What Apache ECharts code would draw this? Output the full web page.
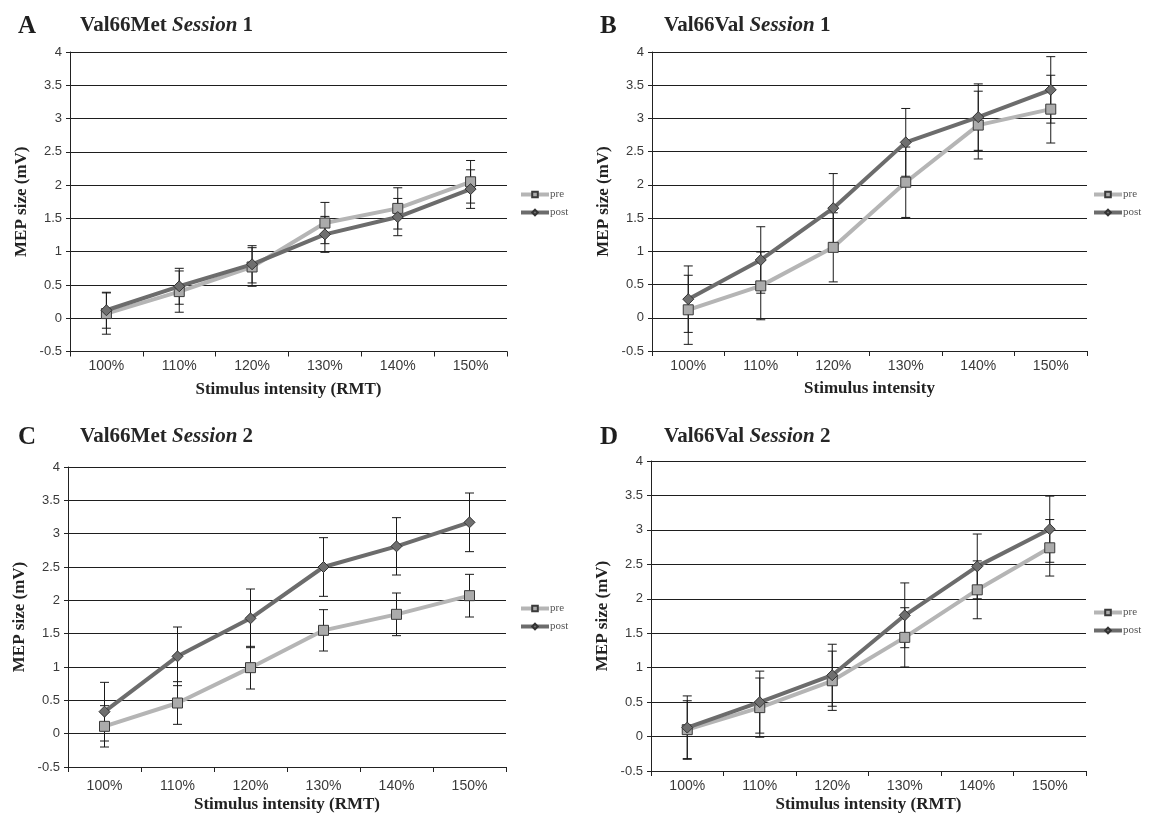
<!DOCTYPE html>
<html>
<head>
<meta charset="utf-8">
<title>MEP size by stimulus intensity</title>
<script src="https://cdn.jsdelivr.net/npm/echarts@6/dist/echarts.min.js"></script>
<style>
  html, body { margin: 0; padding: 0; background: #fff; }
  #chart { width: 1151px; height: 816px; }
</style>
</head>
<body>
<div id="chart"></div>
<script>
// Stimulus intensities (% of resting motor threshold)
const categories = ['100%', '110%', '120%', '130%', '140%', '150%'];
const yTicks = { min: -0.5, max: 4, interval: 0.5 };

// Panel A: Val66Met, session 1 (mean MEP, mV, and error)
const preA = [0.07, 0.40, 0.77, 1.43, 1.65, 2.05];
const preAErr = [0.31, 0.31, 0.29, 0.31, 0.31, 0.32];
const postA = [0.12, 0.48, 0.81, 1.26, 1.52, 1.94];
const postAErr = [0.27, 0.27, 0.28, 0.27, 0.28, 0.29];

// Panel B: Val66Val, session 1
const preB = [0.12, 0.48, 1.06, 2.04, 2.90, 3.14];
const preBErr = [0.52, 0.51, 0.52, 0.53, 0.51, 0.51];
const postB = [0.28, 0.87, 1.65, 2.64, 3.02, 3.43];
const postBErr = [0.50, 0.50, 0.52, 0.51, 0.50, 0.50];

// Panel C: Val66Met, session 2
const preC = [0.11, 0.46, 0.99, 1.55, 1.79, 2.07];
const preCErr = [0.31, 0.32, 0.32, 0.31, 0.32, 0.32];
const postC = [0.33, 1.16, 1.73, 2.50, 2.81, 3.17];
const postCErr = [0.44, 0.44, 0.44, 0.44, 0.43, 0.44];

// Panel D: Val66Val, session 2
const preD = [0.10, 0.42, 0.81, 1.44, 2.13, 2.74];
const preDErr = [0.42, 0.43, 0.43, 0.43, 0.42, 0.41];
const postD = [0.13, 0.50, 0.89, 1.76, 2.47, 3.01];
const postDErr = [0.46, 0.45, 0.45, 0.47, 0.47, 0.48];

const panelTexts = [
  { letter: 'A', genotype: 'Val66Met', session: '1', xName: 'Stimulus intensity (RMT)' },
  { letter: 'B', genotype: 'Val66Val', session: '1', xName: 'Stimulus intensity' },
  { letter: 'C', genotype: 'Val66Met', session: '2', xName: 'Stimulus intensity (RMT)' },
  { letter: 'D', genotype: 'Val66Val', session: '2', xName: 'Stimulus intensity (RMT)' }
];
const panelData = [
  { pre: preA, preErr: preAErr, post: postA, postErr: postAErr },
  { pre: preB, preErr: preBErr, post: postB, postErr: postBErr },
  { pre: preC, preErr: preCErr, post: postC, postErr: postCErr },
  { pre: preD, preErr: preDErr, post: postD, postErr: postDErr }
];

// Layout of each panel on the page
const layout = [
  { grid: { left: 70, top: 52, width: 437, height: 299.5 }, labelMargin: 8, xGap: 30,
    letter: { left: 13, top: 9 }, title: { left: 75, top: 10 }, legend: { left: 519, top: 189 } },
  { grid: { left: 652, top: 52, width: 435, height: 299 }, labelMargin: 8, xGap: 29,
    letter: { left: 595, top: 9 }, title: { left: 659, top: 10 }, legend: { left: 1092, top: 189 } },
  { grid: { left: 68, top: 467, width: 438, height: 300 }, labelMargin: 12, xGap: 29,
    letter: { left: 13, top: 420 }, title: { left: 75, top: 421 }, legend: { left: 519, top: 603 } },
  { grid: { left: 651, top: 461, width: 435, height: 310 }, labelMargin: 8, xGap: 25,
    letter: { left: 595, top: 420 }, title: { left: 659, top: 421 }, legend: { left: 1092, top: 607 } }
];

const SERIF = '"Liberation Serif", "DejaVu Serif", serif';
const SANS = '"Liberation Sans", Arial, sans-serif';

const preStyle = { line: '#b5b5b5', fill: '#ababab', border: '#3a3a3a' };
const postStyle = { line: '#6c6c6c', fill: '#6f6f6f', border: '#333333' };

// Vertical error bar with caps, drawn through the axis scales
function renderErrorBar(params, api) {
  const idx = api.value(0);
  const mean = api.value(1);
  const err = api.value(2);
  const hi = api.coord([idx, mean + err]);
  const lo = api.coord([idx, mean - err]);
  const w = 4.5;
  const style = { stroke: '#1a1a1a', lineWidth: 1 };
  return {
    type: 'group',
    children: [
      { type: 'line', shape: { x1: hi[0], y1: hi[1], x2: lo[0], y2: lo[1] }, style },
      { type: 'line', shape: { x1: hi[0] - w, y1: hi[1], x2: hi[0] + w, y2: hi[1] }, style },
      { type: 'line', shape: { x1: lo[0] - w, y1: lo[1], x2: lo[0] + w, y2: lo[1] }, style }
    ]
  };
}

const grids = [], xAxes = [], yAxes = [], series = [], titles = [], legends = [];

panelTexts.forEach((p, i) => {
  const L = layout[i];
  const d = panelData[i];
  grids.push(Object.assign({ containLabel: false }, L.grid));

  titles.push({
    text: p.letter,
    left: L.letter.left, top: L.letter.top,
    textStyle: { fontFamily: SERIF, fontWeight: 'bold', fontSize: 25, color: '#1e1e1e' }
  });
  titles.push({
    text: p.genotype + ' {i|Session} ' + p.session,
    left: L.title.left, top: L.title.top,
    textStyle: {
      fontFamily: SERIF, fontWeight: 'bold', fontSize: 21, color: '#262626',
      rich: { i: { fontFamily: SERIF, fontWeight: 'bold', fontStyle: 'italic', fontSize: 21, color: '#262626' } }
    }
  });

  xAxes.push({
    type: 'category', gridIndex: i, data: categories, boundaryGap: true,
    position: 'bottom',
    name: p.xName, nameLocation: 'middle', nameGap: L.xGap,
    nameTextStyle: { fontFamily: SERIF, fontWeight: 'bold', fontSize: 17, color: '#222' },
    axisLine: { show: true, onZero: false, lineStyle: { color: '#222', width: 1 } },
    axisTick: { show: true, alignWithLabel: false, inside: false, length: 5, lineStyle: { color: '#222' } },
    axisLabel: { margin: L.labelMargin, fontFamily: SANS, fontSize: 14, color: '#3a3a3a', interval: 0 },
    splitLine: { show: false }
  });

  yAxes.push({
    type: 'value', gridIndex: i,
    min: yTicks.min, max: yTicks.max, interval: yTicks.interval,
    name: 'MEP size (mV)', nameLocation: 'middle', nameGap: 40, nameRotate: 90,
    nameTextStyle: { fontFamily: SERIF, fontWeight: 'bold', fontSize: 17, color: '#222' },
    axisLine: { show: true, lineStyle: { color: '#222', width: 1 } },
    axisTick: { show: true, length: 4, lineStyle: { color: '#222' } },
    axisLabel: { margin: 8, fontFamily: SANS, fontSize: 13, color: '#3a3a3a' },
    splitLine: { show: true, lineStyle: { color: '#1e1e1e', width: 1 } }
  });

  legends.push({
    orient: 'vertical', left: L.legend.left, top: L.legend.top, padding: 0,
    itemWidth: 28, itemHeight: 7, itemGap: 7,
    data: ['pre', 'post'],
    lineStyle: { width: 4 },
    textStyle: { fontFamily: SERIF, fontSize: 11, color: '#555', padding: [0, 0, 0, -4] },
    selectedMode: false
  });

  const errData = (mean, err) => categories.map((c, k) => [k, mean[k], err[k]]);

  series.push({
    name: 'pre-err', type: 'custom', xAxisIndex: i, yAxisIndex: i, z: 2,
    renderItem: renderErrorBar, data: errData(d.pre, d.preErr),
    encode: { x: 0, y: [1] }, silent: true
  });
  series.push({
    name: 'post-err', type: 'custom', xAxisIndex: i, yAxisIndex: i, z: 2,
    renderItem: renderErrorBar, data: errData(d.post, d.postErr),
    encode: { x: 0, y: [1] }, silent: true
  });
  series.push({
    name: 'pre', type: 'line', xAxisIndex: i, yAxisIndex: i, z: 3,
    data: d.pre, symbol: 'rect', symbolSize: 10, showAllSymbol: true,
    lineStyle: { color: preStyle.line, width: 4 },
    itemStyle: { color: preStyle.fill, borderColor: preStyle.border, borderWidth: 1 },
    emphasis: { disabled: true }
  });
  series.push({
    name: 'post', type: 'line', xAxisIndex: i, yAxisIndex: i, z: 4,
    data: d.post, symbol: 'diamond', symbolSize: 11, showAllSymbol: true,
    lineStyle: { color: postStyle.line, width: 4 },
    itemStyle: { color: postStyle.fill, borderColor: postStyle.border, borderWidth: 1 },
    emphasis: { disabled: true }
  });
});

const chart = echarts.init(document.getElementById('chart'), null, { renderer: 'canvas' });
chart.setOption({
  backgroundColor: '#ffffff',
  animation: false,
  title: titles,
  legend: legends,
  grid: grids,
  xAxis: xAxes,
  yAxis: yAxes,
  series: series
});
</script>
</body>
</html>
